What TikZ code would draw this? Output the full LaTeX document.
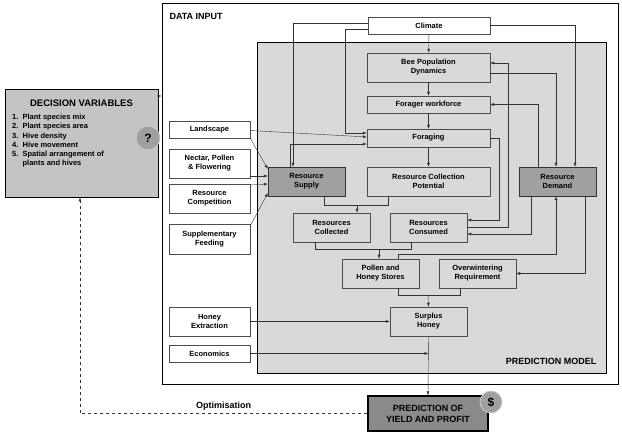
\documentclass[tikz,border=0pt]{standalone}
\usepackage{fontspec}
\setmainfont{Liberation Sans}
\usetikzlibrary{positioning,arrows.meta}
\definecolor{modelgray}{HTML}{D9D9D9}
\definecolor{darkbox}{HTML}{A0A0A0}
\definecolor{yieldgray}{HTML}{8A8A8A}
\definecolor{decgray}{HTML}{C4C4C4}
\begin{document}
\begin{tikzpicture}[x=1pt,y=-1pt,
        box/.style={
            rectangle, draw = black!70, fill = modelgray, inner sep = 1pt, align = center,
            font = \fontsize{7.5}{9}\selectfont\bfseries, minimum width = 77, minimum height = 29
        },
        input/.style={
            box, fill = white, minimum width = 81
        },
        key/.style={
            box, fill = darkbox, draw = black!80
        },
        badge/.style={
            circle, fill = darkbox, draw = black!20, thick, minimum size = 22, inner sep = 0pt,
            font = \large\bfseries
        },
        arr/.style={-{Latex[length=4pt,width=3pt]}, draw = black!80, thin},
        line/.style={draw = black!80, thin},
    ]
        \useasboundingbox (0,0) rectangle (622,435);
        \node (datainput) [draw, thick, fill = white, minimum width = 456, minimum height = 381] at (390,193.5) {};
        \node (model) [draw, thick, fill = modelgray, minimum width = 349, minimum height = 331] at (431.5,207.5) {};
        \node [anchor=west, font=\fontsize{9}{10}\selectfont\bfseries] at (166,16) {DATA INPUT};
        \node [anchor=east, font=\fontsize{9}{10}\selectfont\bfseries] at (600,361) {PREDICTION MODEL};

        % prediction model boxes
        \node (climate) [box, fill = white, minimum width = 122, minimum height = 17] at (429,25.5) {Climate};
        \node (beepop) [box, minimum width = 123] at (428.5,67.5) {Bee Population\\Dynamics};
        \node (forager) [box, minimum width = 123, minimum height = 17] at (428.5,104.5) {Forager workforce};
        \node (foraging) [box, minimum width = 123, minimum height = 18] at (428.5,138) {Foraging};
        \node (supply) [key] at (306.5,181.5) {Resource\\Supply};
        \node (rcp) [box, minimum width = 123] at (428.5,181.5) {Resource Collection\\Potential};
        \node (demand) [key] at (557.5,181.5) {Resource\\Demand};
        \node (rcoll) [box] at (331.5,227.5) {Resources\\Collected};
        \node (rcons) [box] at (428.5,227.5) {Resources\\Consumed};
        \node (stores) [box] at (380.5,273.5) {Pollen and\\Honey Stores};
        \node (winter) [box] at (477.5,273.5) {Overwintering\\Requirement};
        \node (surplus) [box] at (428.5,321.5) {Surplus\\Honey};

        % data inputs
        \node (landscape) [input, minimum height = 17] at (209.5,129.5) {Landscape};
        \node (nectar) [input] at (209.5,163.5) {Nectar, Pollen\\\& Flowering};
        \node (competition) [input] at (209.5,198.5) {Resource\\Competition};
        \node (feeding) [input, minimum height = 30] at (209.5,239) {Supplementary\\Feeding};
        \node (extraction) [input] at (209.5,321.5) {Honey\\Extraction};
        \node (economics) [input, minimum height = 17] at (209.5,353.5) {Economics};

        % outputs and decisions
        \node (yield) [box, fill = yieldgray, draw = black, very thick, minimum width = 120, minimum height = 35,
            font = \fontsize{9}{11}\selectfont\bfseries] at (428,413.5) {PREDICTION OF\\YIELD AND PROFIT};
        \node (dollar) [badge] at (491,402) {\$};
        \node (decision) [box, fill = decgray, draw = black, thick, minimum width = 153, minimum height = 108] at (81.5,143) {};
        \node [font=\fontsize{9.5}{11}\selectfont\bfseries] at (81.5,103) {DECISION VARIABLES};
        \node [anchor=north west, inner sep=0pt, font=\fontsize{7.5}{9.2}\selectfont\bfseries] at (12,113)
            {\begin{tabular}{@{}l@{\ \ }l@{}}1.&Plant species mix\\2.&Plant species area\\3.&Hive density\\4.&Hive movement\\5.&Spatial arrangement of\\&plants and hives\end{tabular}};
        \node (question) [badge, minimum size = 24] at (148,138) {?};

        % main chain
        \path (climate) edge[arr] (beepop);
        \path (beepop) edge[arr] (forager);
        \path (forager) edge[arr] (foraging);
        \path (foraging) edge[arr] (rcp);

        \draw[arr] ([yshift=2.5pt]climate.west) -| ([xshift=-13.5pt]supply.north);
        \draw[arr] ([yshift=-3.5pt]climate.west) -| (345,133) -- ([yshift=5pt]foraging.west);
        \draw[arr] (climate.east) -| ([xshift=17.5pt]demand.north);
        \draw[arr] ([yshift=-5.5pt]beepop.east) -| ([xshift=-1.5pt]demand.north);
        \draw[arr] ([xshift=-19.5pt]demand.north) |- (forager.east);
        \draw[arr] (rcons.east) -| (508,63) -- ([yshift=4.5pt]beepop.east);
        \draw[arr] (foraging.east) -| (499,220) -- ([yshift=7.5pt]rcons.east);
        \draw[arr] ([xshift=-26.5pt]demand.south) |- ([yshift=-6.5pt]rcons.east);

        % inputs into supply and foraging
        \draw[arr] (landscape.south east) -- ([yshift=12.5pt]supply.west);
        \draw[arr] ([yshift=-1pt]landscape.east) -- ([yshift=1pt]foraging.west);
        \draw[arr] ([xshift=-16.5pt]supply.north) |- ([yshift=-6pt]foraging.west);
        \draw[arr] ([yshift=-12.5pt]nectar.east) -- ([yshift=5.5pt]supply.west);
        \draw[arr] ([yshift=13.5pt]competition.east) -- ([yshift=-2.5pt]supply.west);
        \draw[arr] ([yshift=13pt]feeding.east) -- ([yshift=-11.5pt]supply.west);

        % collection and stores
        \coordinate (j1) at (357,205);
        \draw[line] ([xshift=17.5pt]supply.south) |- (j1);
        \draw[line] ([xshift=-40.5pt]rcp.south) |- (j1);
        \draw[arr] (j1) -- (rcoll.north -| j1);
        \coordinate (j2) at (379,249);
        \draw[line] ([xshift=-16.5pt]rcoll.south) |- (j2);
        \draw[line] ([xshift=-17.5pt]rcons.south) |- (j2);
        \draw[arr] (j2) -- (stores.north -| j2);
        \draw[arr] ([xshift=17.5pt]stores.north) -- ++(0,-5) -| ([xshift=-1.5pt]demand.south);
        \draw[arr] ([xshift=27.5pt]demand.south) |- (winter.east);
        \coordinate (j3) at (428,295);
        \draw[line] ([xshift=17.5pt]stores.south) |- (j3);
        \draw[line] ([xshift=-17.5pt]winter.south) |- (j3);
        \draw[arr] (j3) -- (surplus.north);

        % outputs
        \draw[arr] (extraction.east) -- (surplus.west);
        \draw[arr] (economics.east) -- (surplus.south |- economics.east);
        \draw[arr] (surplus.south) -- (yield.north);
        \draw[arr] ([yshift=47pt]decision.east) -- (datainput.west |- 0,96);
        \draw[arr, dashed] (yield.west) -| node[pos=0.25, above, font=\fontsize{9}{10}\selectfont\bfseries] {Optimisation} ([xshift=-1.5pt]decision.south);
    \end{tikzpicture}
\end{document}
